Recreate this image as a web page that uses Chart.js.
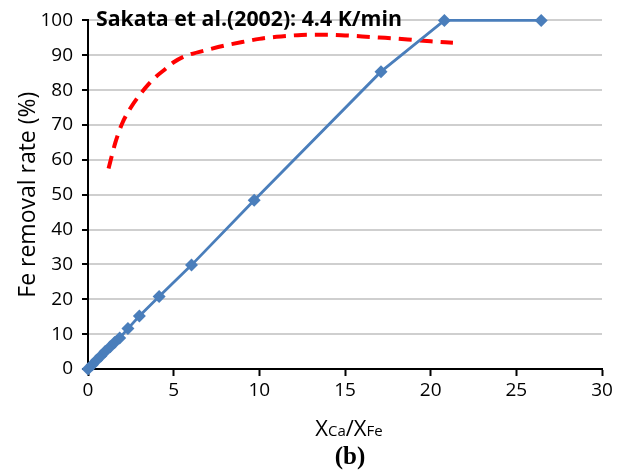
<!DOCTYPE html>
<html>
<head>
<meta charset="utf-8">
<script src="https://cdn.jsdelivr.net/npm/chart.js@4/dist/chart.umd.min.js"></script>
<style>
  html, body { margin: 0; padding: 0; background: #fff; }
  #wrap { width: 627px; height: 475px; position: relative; }
</style>
</head>
<body>
<div id="wrap"><canvas id="c" width="627" height="475"></canvas></div>
<script>
// Measured Fe removal rate against the Ca/Fe mole-fraction ratio
const ratioCaFe = [0, 0.25, 0.5, 0.75, 1.0, 1.3, 1.55, 1.85, 2.33, 3.0, 4.15, 6.04, 9.7, 17.1, 20.8, 26.45];
const removalRate = [0, 1.2, 2.5, 3.7, 5.0, 6.4, 7.6, 8.9, 11.6, 15.2, 20.8, 29.8, 48.4, 85.3, 100, 100];

// Reference curve, Sakata et al. (2002) at 4.4 K/min
const sakataRatio = [1.2, 1.6, 2.0, 2.5, 3.0, 3.5, 4.0, 4.5, 5.0, 5.5, 6.0, 7.0, 8.0, 9.0, 10.0, 11.0, 12.0, 13.0, 14.0, 15.0, 16.0, 17.0, 18.0, 19.0, 20.0, 21.3];
const sakataRate = [57.5, 65, 70.5, 75, 78.5, 81.5, 84, 86, 88, 89.4, 90.3, 91.6, 92.8, 93.8, 94.7, 95.3, 95.7, 95.9, 95.9, 95.7, 95.4, 95.1, 94.8, 94.4, 94.0, 93.6];

// Axis ticks
const xTicks = [0, 5, 10, 15, 20, 25, 30];
const yTicks = [0, 10, 20, 30, 40, 50, 60, 70, 80, 90, 100];

const blue = '#4a7ebb';
const FONT = '"Open Sans", "DejaVu Sans", sans-serif';

const toPoints = (xs, ys) => xs.map((x, i) => ({ x: x, y: ys[i] }));

// Fit a string to a target width by picking the font size
function fitFont(ctx, text, weight, target) {
  ctx.font = weight + ' 20px ' + FONT;
  const w = ctx.measureText(text).width;
  return weight + ' ' + (20 * target / w).toFixed(2) + 'px ' + FONT;
}

// Annotation texts: inset label, axis titles with subscripts, panel tag
const textPlugin = {
  id: 'texts',
  afterDraw(chart) {
    const ctx = chart.ctx;
    const area = chart.chartArea;
    ctx.save();
    ctx.fillStyle = '#000';

    // inset label
    const label = 'Sakata et al.(2002): 4.4 K/min';
    ctx.font = fitFont(ctx, label, 'bold', 306);
    ctx.textAlign = 'left';
    ctx.textBaseline = 'alphabetic';
    ctx.fillText(label, 96, 26);

    // y axis title
    const yTitle = 'Fe removal rate (%)';
    ctx.save();
    ctx.translate(35, (area.top + area.bottom) / 2);
    ctx.rotate(-Math.PI / 2);
    ctx.font = fitFont(ctx, yTitle, 'normal', 206);
    ctx.textAlign = 'center';
    ctx.fillText(yTitle, 0, 0);
    ctx.restore();

    // x axis title: X_Ca / X_Fe
    const parts = [
      { t: 'X', f: '22px ' + FONT },
      { t: 'Ca', f: '15px ' + FONT },
      { t: '/X', f: '22px ' + FONT },
      { t: 'Fe', f: '15px ' + FONT }
    ];
    let total = 0;
    parts.forEach(p => { ctx.font = p.f; p.w = ctx.measureText(p.t).width; total += p.w; });
    let x = 349 - total / 2;
    const base = 436;
    ctx.textAlign = 'left';
    parts.forEach(p => { ctx.font = p.f; ctx.fillText(p.t, x, base); x += p.w; });

    // panel tag
    ctx.font = 'bold 25px "Liberation Serif", "DejaVu Serif", serif';
    ctx.textAlign = 'center';
    ctx.fillText('(b)', 350, 464);
    ctx.restore();
  }
};

new Chart(document.getElementById('c'), {
  type: 'scatter',
  data: {
    datasets: [
      {
        label: 'Sakata et al.(2002): 4.4 K/min',
        data: toPoints(sakataRatio, sakataRate),
        showLine: true,
        borderColor: '#ff0000',
        borderWidth: 4,
        borderDash: [13, 8],
        pointRadius: 0,
        cubicInterpolationMode: 'monotone',
        clip: false,
        order: 2
      },
      {
        label: 'Fe removal rate',
        data: toPoints(ratioCaFe, removalRate),
        showLine: true,
        borderColor: blue,
        borderWidth: 2.8,
        backgroundColor: blue,
        pointStyle: 'rectRot',
        pointRadius: 6.5,
        pointBorderWidth: 0,
        pointBackgroundColor: blue,
        tension: 0,
        clip: false,
        order: 1
      }
    ]
  },
  options: {
    responsive: false,
    animation: false,
    devicePixelRatio: 1,
    layout: { padding: { left: 0, top: 18, right: 25, bottom: 0 } },
    plugins: {
      legend: { display: false },
      tooltip: { enabled: false }
    },
    scales: {
      x: {
        type: 'linear',
        min: 0,
        max: 30,
        afterBuildTicks(scale) { scale.ticks = xTicks.map(v => ({ value: v })); },
        afterFit(scale) { scale.height = 106; },
        ticks: { color: '#000', font: { family: FONT, size: 19 }, padding: 3, maxRotation: 0 },
        grid: { drawOnChartArea: false, drawTicks: true, tickLength: 7, tickColor: '#000', tickWidth: 2 },
        border: { display: true, color: '#000', width: 2 }
      },
      y: {
        type: 'linear',
        min: 0,
        max: 100,
        afterBuildTicks(scale) { scale.ticks = yTicks.map(v => ({ value: v })); },
        afterFit(scale) { scale.width = 88; },
        ticks: { color: '#000', font: { family: FONT, size: 19 }, padding: 9 },
        grid: { color: '#cfcfcf', lineWidth: 2, drawTicks: true, tickLength: 6, tickColor: '#000', tickWidth: 2 },
        border: { display: true, color: '#000', width: 2 }
      }
    }
  },
  plugins: [textPlugin]
});
</script>
</body>
</html>
